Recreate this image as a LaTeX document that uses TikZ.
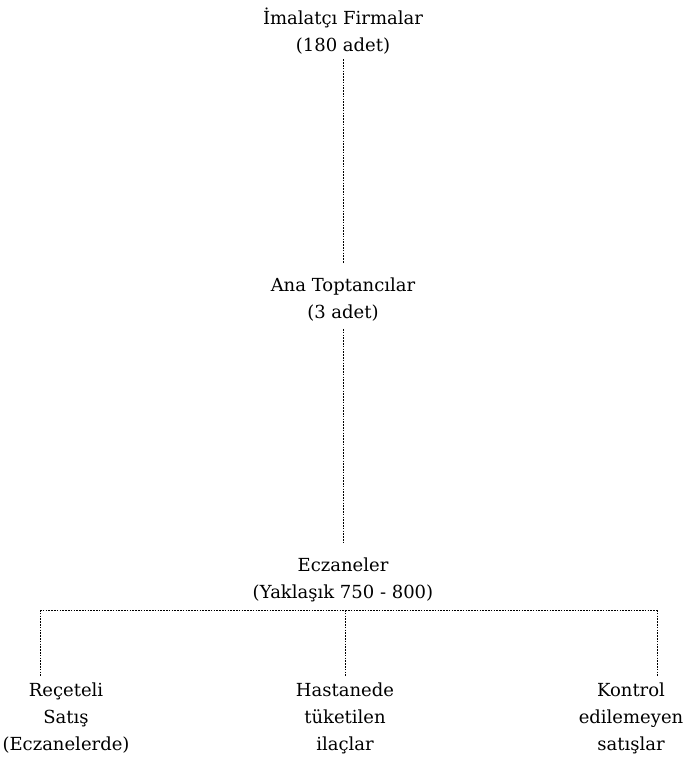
\documentclass[tikz,border=0pt]{standalone}
\usepackage{fontspec}
\setmainfont{DejaVu Serif}
\begin{document}
\begin{tikzpicture}[x=1pt,y=-1pt,
  lbl/.style={align=center,inner sep=0pt,font=\fontsize{18}{27}\selectfont},
  dots/.style={line width=0.9pt,dash pattern=on 1.6pt off 1.2pt}]
\useasboundingbox (0,0) rectangle (684,770);
\node[lbl] (imal) at (343,31) {İmalatçı Firmalar\\(180 adet)};
\node[lbl] (ana) at (343,300) {Ana Toptancılar\\(3 adet)};
\node[lbl] (ecz) at (343,580) {Eczaneler\\(Yaklaşık 750 - 800)};
\node[lbl] (rec) at (66,718) {Reçeteli\\Satış\\(Eczanelerde)};
\node[lbl] (has) at (345,718) {Hastanede\\tüketilen\\ilaçlar};
\node[lbl] (kon) at (631,718) {Kontrol\\edilemeyen\\satışlar};
\coordinate (h1) at (40,610);
\coordinate (h2) at (345,610);
\coordinate (h3) at (657,610);
\draw[dots] (imal.south) ++(0,5) -- ([yshift=15pt]ana.north);
\draw[dots] (ana.south) ++(0,7) -- ([yshift=14pt]ecz.north);
\draw[dots] (h1) -- (h3);
\draw[dots,shorten >=6pt] (h1) -- (h1 |- rec.north);
\draw[dots,shorten >=6pt] (h2) -- (h2 |- has.north);
\draw[dots,shorten >=6pt] (h3) -- (h3 |- kon.north);
\end{tikzpicture}
\end{document}
